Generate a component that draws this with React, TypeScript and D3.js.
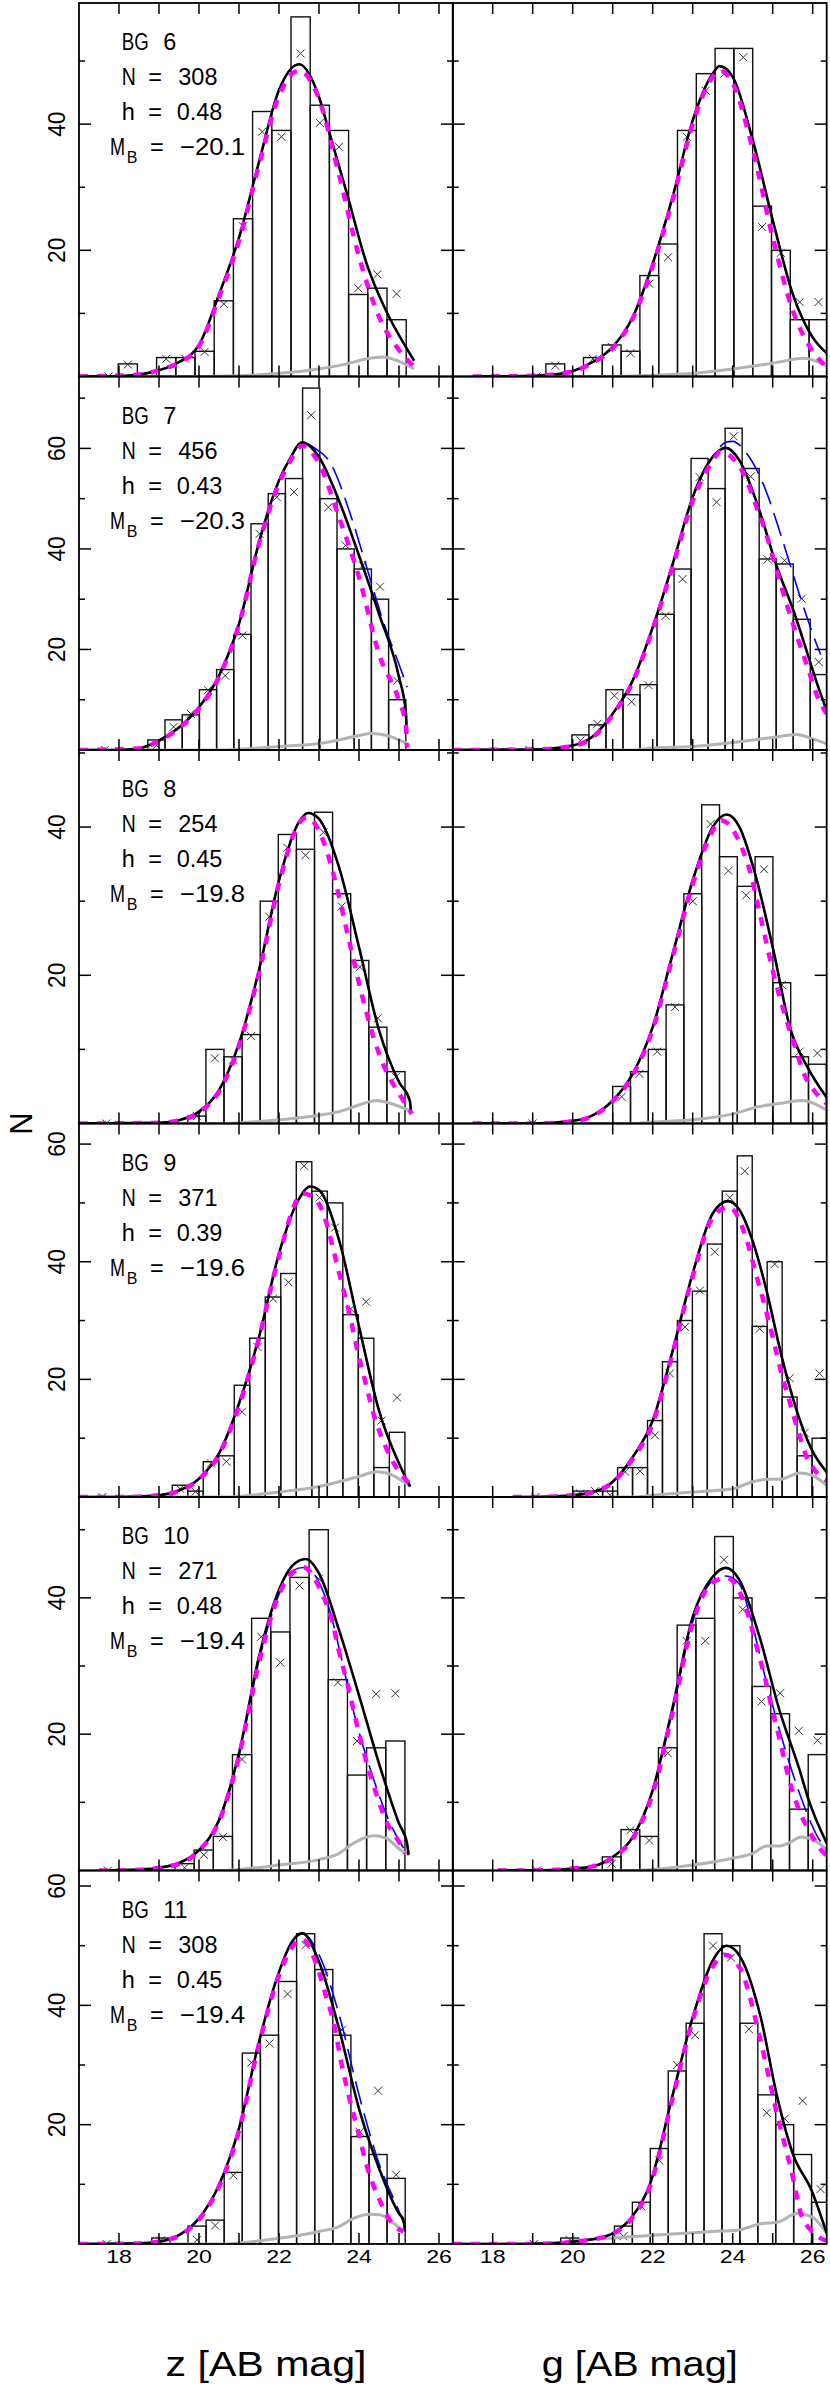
import * as d3 from "d3";

type Pt = [number, number];

// bin spec per panel: [first bin edge, bin width, bin index of first cross]
// ---------------- BG 6 ----------------
const bg6zBin = [17.98, 0.48, -1];
const bg6zBars = [2, 0, 3, 3, 4, 12, 25, 42, 39, 57, 43, 39, 13, 14, 9];
const bg6zCross = [0, 1.9, null, 2.8, 2.8, 3.9, 11.5, 23.8, 38.8, 38, 51.2, 40.2, 36.4, 14, 16.2, 13.1];
const bg6zFit: Pt[] = [[17, 0], [18, 0.05], [18.5, 0.3], [19, 1.0], [19.5, 2.3], [20, 5.0], [20.5, 13], [21, 22], [21.5, 34], [22, 45.4], [22.5, 49.5], [23, 44.3], [23.23, 39.3], [23.72, 28.5], [24.19, 17.9], [24.67, 10.5], [25.15, 4.9], [25.38, 2.5]];
const bg6zMag: Pt[] = [[17, 0], [18.5, 0.3], [19, 1.0], [19.5, 2.2], [20, 4.8], [20.5, 12.5], [21, 21.5], [21.5, 33.5], [22, 44.5], [22.5, 48.5], [23, 44], [23.5, 32], [24, 19], [24.5, 9.5], [25, 4.2], [25.38, 1.5]];
const bg6zGray: Pt[] = [[17, 0], [20, 0], [21, 0.1], [22, 0.5], [23, 1.2], [23.7, 2.0], [24.2, 2.8], [24.6, 3.1], [25.0, 2.4], [25.38, 1.2]];

const bg6gBin = [19.33, 0.47, -1];
const bg6gBars = [2, 0, 3, 5, 4, 16, 21, 39, 48, 52, 52, 27, 20, 9, 9];
const bg6gCross = [0, 1.7, null, 2.8, 4.7, 3.7, 14.7, 18.9, 38, 45.3, 48, 50.6, 23.7, 19.6, 11.8, 11.8];
const bg6gFit: Pt[] = [[17.5, 0], [19, 0.1], [19.5, 0.3], [20, 0.85], [20.5, 2.3], [21, 4.7], [21.5, 9.4], [22, 17.9], [22.5, 28.5], [23, 40.6], [23.5, 48], [23.67, 49.2], [24, 47.5], [24.5, 37.5], [25, 24.8], [25.5, 13.1], [26, 6.2], [26.35, 3.7]];
const bg6gMag: Pt[] = [[17.5, 0], [19, 0.1], [20, 0.8], [20.5, 2.2], [21, 4.5], [21.5, 9.2], [22, 17.5], [22.5, 28], [23, 40], [23.5, 47.5], [23.67, 48.5], [24, 46.5], [24.5, 36], [25, 22], [25.5, 10.5], [26, 4.0], [26.35, 1.5]];
const bg6gGray: Pt[] = [[17.5, 0], [21, 0], [22, 0.2], [23, 0.5], [24, 1.2], [25, 2.1], [25.77, 2.9], [26.35, 1.7]];

// ---------------- BG 7 ----------------
const bg7zBin = [18.72, 0.43, -3];
const bg7zBars = [2, 6, 7, 12, 16, 23, 45, 51, 54, 72, 50, 40, 36, 30, 10];
const bg7zCross = [0, null, null, 0.9, 4.6, 7.2, 11.9, 14.8, 22.8, 43, 50.3, 51.3, 66.6, 48.3, 40.7, 36.7, 32.5, 13.8];
const bg7zFit: Pt[] = [[17, 0], [18, 0], [18.5, 0.3], [19, 1.9], [19.5, 4.5], [20, 8.5], [20.5, 14.8], [21, 25.1], [21.5, 41.3], [22, 53.6], [22.25, 57.6], [22.58, 61.2], [23, 58.3], [23.5, 49.6], [24, 38.7], [24.5, 27.1], [25, 14.5], [25.17, 7.5], [25.2, 3.2]];
const bg7zBlue: Pt[] = [[17, 0], [18, 0], [18.5, 0.3], [19, 1.9], [19.5, 4.5], [20, 8.5], [20.5, 14.8], [21, 25.1], [21.5, 41.3], [22, 53.6], [22.25, 57.6], [22.58, 61.2], [22.9, 60], [23.27, 57.3], [23.78, 47], [24.19, 36.4], [24.6, 25.7], [25.07, 15.5], [25.2, 12.5]];
const bg7zMag: Pt[] = [[17, 0], [18.5, 0.3], [19, 1.8], [19.5, 4.3], [20, 8.3], [20.5, 14.5], [21, 25], [21.5, 41], [22, 53], [22.25, 57], [22.58, 60.5], [23, 57], [23.5, 46.3], [24, 34.4], [24.5, 19.1], [25, 9.8], [25.17, 5], [25.2, 0.5]];
const bg7zGray: Pt[] = [[17, 0], [20.5, 0], [22, 0.7], [23, 1.3], [23.5, 2], [24, 2.9], [24.3, 3.3], [24.7, 2.9], [25.2, 1.3]];

const bg7gBin = [19.98, 0.4256, -3];
const bg7gBars = [3, 5, 12, 11, 13, 27, 36, 58, 52, 64, 56, 38, 37, 26, 15];
const bg7gCross = [0, null, null, 1.9, 5.2, 10.8, 9.6, 12.9, 26.7, 34, 54.3, 49.3, 62.4, 54.4, 37.9, 37.7, 30.1, 17.5];
const bg7gFit: Pt[] = [[17, 0], [19, 0.1], [20, 0.9], [20.5, 2.7], [21, 7.2], [21.5, 13.8], [22, 24.4], [22.5, 37], [23, 50.3], [23.5, 58.3], [23.83, 60.1], [24.17, 57.6], [24.67, 47.6], [25.08, 37], [25.52, 27.7], [26.17, 11.8], [26.35, 7.8]];
const bg7gBlue: Pt[] = [[17, 0], [19, 0.1], [20, 0.9], [20.5, 2.7], [21, 7.2], [21.5, 13.8], [22, 24.4], [22.5, 37], [23, 50.3], [23.5, 58.3], [23.83, 61.2], [24.0, 61.4], [24.3, 59.5], [24.78, 52.6], [25.23, 42.1], [25.65, 31.4], [26.1, 21], [26.2, 19]];
const bg7gMag: Pt[] = [[17, 0], [19, 0.1], [20, 0.8], [20.5, 2.5], [21, 7], [21.5, 13.5], [22, 24], [22.5, 36.5], [23, 49.5], [23.5, 57.5], [23.68, 59.3], [24.27, 55], [24.6, 48.3], [24.85, 42.7], [25.1, 35.7], [25.35, 29], [25.6, 22.8], [25.87, 16.5], [26.14, 10.2], [26.35, 7.2]];
const bg7gGray: Pt[] = [[17, 0], [21.5, 0], [22, 0.4], [23, 0.7], [24, 1.5], [25, 2.5], [25.6, 3.1], [26, 2.2], [26.35, 1.2]];

// ---------------- BG 8 ----------------
const bg8zBin = [19.72, 0.4525, -5];
const bg8zBars = [1, 10, 9, 12, 30, 39, 37, 42, 31, 22, 13, 7];
const bg8zCross = [0, null, null, null, null, 1.0, 8.8, 8.6, 11.8, 27.9, 37.2, 36.2, 39.3, 29.3, 21.1, 14.2, 6.3];
const bg8zFit: Pt[] = [[17, 0], [19, 0.1], [19.5, 0.45], [20, 1.6], [20.5, 4.5], [21, 10.8], [21.5, 20.7], [22, 32.8], [22.5, 40.7], [22.73, 41.9], [23, 41.1], [23.5, 34.6], [24, 23.8], [24.5, 12.6], [25, 5.6], [25.27, 3.1], [25.3, 1.5]];
const bg8zMag: Pt[] = [[17, 0], [19, 0.1], [19.5, 0.4], [20, 1.5], [20.5, 4.3], [21, 10.5], [21.5, 20.3], [22, 32.3], [22.5, 40.5], [22.7, 41.3], [23, 39.5], [23.36, 33.7], [23.73, 25.2], [24.15, 15.7], [24.36, 11.7], [24.65, 7.4], [25.03, 3.8], [25.32, 1.3]];
const bg8zGray: Pt[] = [[17, 0], [20.5, 0], [22, 0.5], [23, 1.1], [23.5, 1.6], [24, 2.5], [24.44, 3.1], [24.73, 2.8], [25.33, 1.6]];

const bg8gBin = [21.0, 0.445, -5];
const bg8gBars = [5, 7, 10, 16, 31, 43, 36, 32, 36, 19, 9, 8];
const bg8gCross = [0, null, null, null, null, 3.6, 6.7, 9.7, 15.7, 30, 40.4, 34.1, 30.8, 34.3, 18.7, 9.7, 9.5];
const bg8gFit: Pt[] = [[17.5, 0], [19, 0], [20, 0.36], [20.5, 1.1], [21, 3.1], [21.5, 6.7], [22, 13], [22.5, 22.9], [23, 32.8], [23.5, 40], [23.85, 41.7], [24.17, 40], [24.56, 33.7], [25, 23.8], [25.44, 12.8], [25.89, 7.4], [26.35, 3.5]];
const bg8gMag: Pt[] = [[17.5, 0], [19, 0], [20, 0.3], [20.5, 1.0], [21, 3], [21.5, 6.5], [22, 12.7], [22.5, 22.5], [23, 32.3], [23.5, 39.5], [23.72, 40.9], [24.22, 37.3], [24.47, 33.3], [24.68, 28.3], [25.02, 20.2], [25.27, 15.3], [25.52, 11], [25.8, 6.5], [26.1, 4], [26.35, 2.7]];
const bg8gGray: Pt[] = [[17.5, 0], [21.5, 0], [22, 0.2], [23, 0.5], [24, 1.3], [24.67, 2.3], [25.18, 2.7], [25.72, 3.1], [26.35, 1.8]];

// ---------------- BG 9 ----------------
const bg9zBin = [19.33, 0.3878, -5];
const bg9zBars = [2, 1, 6, 7, 19, 27, 34, 38, 57, 52, 50, 31, 27, 5, 11];
const bg9zCross = [0, null, null, null, null, 1.4, 0.9, 5.7, 6.0, 14.5, 25.5, 33.7, 36.5, 56.3, 50.9, 45.8, 32, 33.2, 13, 16.9];
const bg9zFit: Pt[] = [[17, 0], [18, 0], [19, 0.3], [19.5, 1.1], [20, 3.1], [20.5, 7.4], [21, 15.9], [21.5, 27.2], [22, 41.4], [22.5, 50.7], [22.78, 52.8], [23, 52.2], [23.5, 43.7], [24, 29], [24.5, 14.7], [25, 5.7], [25.28, 1.8]];
const bg9zMag: Pt[] = [[17, 0], [18, 0], [19, 0.3], [19.5, 1.0], [20, 3.0], [20.5, 7.2], [21, 15.5], [21.5, 27], [22, 41], [22.6, 51.6], [22.85, 51], [23.11, 48.2], [23.36, 42], [23.57, 36.3], [23.78, 30.6], [23.94, 25.5], [24.15, 19.8], [24.36, 14.2], [24.65, 8.8], [24.9, 5.4], [25.11, 3.4], [25.36, 1.7]];
const bg9zGray: Pt[] = [[17, 0], [20.5, 0], [21, 0.1], [22, 0.85], [23, 1.8], [23.5, 2.6], [24, 3.5], [24.44, 4.3], [24.73, 4.0], [25.28, 1.8]];

const bg9gBin = [20.0, 0.374, -3];
const bg9gBars = [1, 1, 1, 5, 5, 13, 23, 30, 35, 43, 52, 58, 29, 40, 17, 7, 10];
const bg9gCross = [0, null, null, 0.6, 1, 0.3, 4.3, 4.4, 10.5, 21, 28.9, 35.1, 41.7, 50.9, 55.4, 28.6, 39.6, 20.2, 10.9, 21];
const bg9gFit: Pt[] = [[18.5, 0], [19, 0], [20, 0.3], [20.5, 0.85], [20.83, 1.7], [21.5, 6.8], [22, 13], [22.5, 24.9], [23, 38], [23.5, 48.2], [23.88, 50.3], [24.17, 48.8], [24.5, 43.5], [24.85, 35], [25.22, 24], [25.6, 14.7], [25.98, 8], [26.35, 4.2]];
const bg9gMag: Pt[] = [[18.5, 0], [19, 0], [20, 0.3], [20.5, 0.8], [21, 2.5], [21.5, 6.5], [22, 12.5], [22.5, 24.5], [23, 37.5], [23.5, 47.5], [23.9, 49.3], [24.35, 43.7], [24.56, 38.5], [24.81, 32.3], [25.02, 26.6], [25.22, 21], [25.39, 17], [25.68, 10.2], [25.85, 6.8], [26.06, 4.5], [26.35, 2.8]];
const bg9gGray: Pt[] = [[18.5, 0], [21.5, 0], [22, 0.3], [23, 0.85], [24, 1.4], [24.5, 2.6], [24.85, 3], [25.18, 3], [25.68, 4.1], [25.98, 3.7], [26.35, 2]];

// ---------------- BG 10 ----------------
const bg10zBin = [19.4, 0.479, -4];
const bg10zBars = [1, 3, 5, 17, 37, 35, 43, 50, 28, 14, 18, 19];
const bg10zCross = [0, null, null, null, 0.4, 2.3, 4.9, 16.3, 34.3, 30.5, 41.8, 42.8, 27.6, 19, 25.9, 26];
const bg10zFit: Pt[] = [[17.5, 0], [18.5, 0.15], [19, 0.4], [19.5, 1.1], [20, 3.0], [20.5, 7.4], [21, 17.2], [21.5, 31.4], [22, 41.2], [22.33, 44.7], [22.67, 45.7], [23, 43.6], [23.5, 35.3], [24, 25.7], [24.5, 15.7], [25, 6.9], [25.2, 4.0], [25.24, 2.3]];
const bg10zBlue: Pt[] = [[17.5, 0], [18.5, 0.15], [19, 0.4], [19.5, 1.1], [20, 3.0], [20.5, 7.2], [21, 16.8], [21.5, 30.8], [22, 40.5], [22.33, 44], [22.65, 44.5], [23, 42.3], [23.3, 37.5], [23.58, 30.6], [23.9, 22.5], [24.32, 14.2], [24.78, 6.9], [25.2, 2.5]];
const bg10zMag: Pt[] = [[17.5, 0], [18.5, 0.1], [19, 0.4], [19.5, 1.0], [20, 2.9], [20.5, 7.2], [21, 16.8], [21.5, 30.5], [22, 40.5], [22.4, 44], [22.6, 44.5], [23.07, 40.7], [23.32, 36.8], [23.53, 31.4], [23.69, 27.9], [23.94, 21.6], [24.15, 16.7], [24.4, 11.8], [24.69, 7.1], [25.02, 4], [25.15, 2.5]];
const bg10zGray: Pt[] = [[17.5, 0], [20.5, 0], [21, 0.15], [22, 0.8], [23, 1.6], [23.5, 2.5], [23.86, 4.0], [24.19, 4.9], [24.4, 5.1], [24.69, 4.7], [25.0, 3.2], [25.25, 2.3]];

const bg10gBin = [20.74, 0.468, -4];
const bg10gBars = [2, 6, 5, 18, 36, 37, 49, 40, 27, 23, 9, 17];
const bg10gCross = [0, null, null, null, 1, 5.9, 4.4, 17.2, 33.7, 33.7, 45.6, 38.3, 24.8, 26, 20.5, 19.1];
const bg10gFit: Pt[] = [[18.13, 0], [19, 0], [20, 0.3], [20.5, 0.6], [21, 2.0], [21.5, 4.9], [22, 11.8], [22.5, 24], [23, 37.2], [23.5, 43.1], [23.83, 44.4], [24.17, 42.6], [24.67, 34.3], [25.17, 23.5], [25.67, 14.8], [25.89, 10.5], [26.35, 4]];
const bg10gBlue: Pt[] = [[18.13, 0], [19, 0], [20, 0.3], [20.5, 0.6], [21, 2.0], [21.5, 4.9], [22, 11.6], [22.5, 23.5], [23, 36.5], [23.5, 42.5], [23.83, 43.2], [24.17, 42], [24.45, 37], [24.81, 28.4], [25.17, 20.6], [25.63, 12], [26.1, 5.2], [26.35, 3]];
const bg10gMag: Pt[] = [[18.13, 0], [19, 0], [20, 0.3], [20.5, 0.6], [21, 1.9], [21.5, 4.7], [22, 11.3], [22.5, 23.3], [23, 36.3], [23.5, 42.3], [23.86, 42.9], [24.35, 38.2], [24.6, 32.8], [24.81, 28.2], [24.98, 23.8], [25.18, 19.1], [25.39, 13.8], [25.6, 9.8], [26.02, 4.7], [26.18, 3.2], [26.35, 2.2]];
const bg10gGray: Pt[] = [[18.13, 0], [21.5, 0], [22, 0.15], [23, 0.8], [24, 1.8], [24.5, 2.5], [24.85, 3.6], [25.18, 3.6], [25.42, 4.1], [25.72, 4.9], [26.02, 4.5], [26.35, 3.0]];

// ---------------- BG 11 ----------------
const bg11zBin = [18.82, 0.4525, -3];
const bg11zBars = [1, 0, 3, 4, 12, 32, 35, 44, 52, 46, 35, 18, 15, 11];
const bg11zCross = [0, null, null, 0.6, null, 0.7, 3.1, 11.5, 30.4, 33.6, 41.9, 50.1, 44.9, 35.9, 18.8, 25.7, 11.6];
const bg11zFit: Pt[] = [[17, 0], [18.5, 0.1], [19, 0.4], [19.5, 1.5], [20, 4.3], [20.5, 9.9], [21, 19.4], [21.5, 33.9], [22, 45.6], [22.33, 50.7], [22.58, 52.1], [23, 47.3], [23.5, 36.1], [24, 22.7], [24.5, 12.7], [25, 5.1], [25.11, 4.0], [25.15, 2.1]];
const bg11zBlue: Pt[] = [[17, 0], [18.5, 0.1], [19, 0.4], [19.5, 1.5], [20, 4.3], [20.5, 9.9], [21, 19.4], [21.5, 33.9], [22, 45.6], [22.33, 50.7], [22.6, 52], [23, 48.5], [23.5, 38.5], [24, 25], [24.5, 13.5], [25, 5.5], [25.15, 3]];
const bg11zMag: Pt[] = [[17, 0], [18.5, 0.1], [19, 0.4], [19.5, 1.4], [20, 4.1], [20.5, 9.6], [21, 19], [21.5, 33.5], [22, 45], [22.3, 49.5], [22.57, 51.1], [22.94, 46.8], [23.19, 41.2], [23.36, 37.3], [23.57, 30], [23.76, 24.4], [23.98, 18.8], [24.19, 13.2], [24.48, 7.9], [24.9, 2.9], [25.11, 2.1]];
const bg11zGray: Pt[] = [[17, 0], [20.5, 0], [21, 0.2], [22, 0.95], [23, 2.1], [23.5, 2.9], [23.86, 4.3], [24.27, 5.0], [24.52, 4.9], [24.82, 3.7], [25.11, 2.2]];

const bg11gBin = [19.7, 0.448, -2];
const bg11gBars = [1, 0, 0, 3, 7, 16, 29, 37, 52, 50, 37, 25, 20, 15, 7];
const bg11gCross = [0, null, 0.7, null, null, 1.3, 6.3, 14, 30, 35, 50, 48, 36, 22, 21, 24, 9.2];
const bg11gFit: Pt[] = [[17, 0], [18.6, 0], [19.5, 0.15], [20, 0.4], [20.5, 0.8], [21, 1.8], [21.49, 4.6], [21.93, 10], [22.5, 25], [23, 38], [23.5, 47.5], [23.85, 50], [24.2, 48], [24.7, 38], [25.1, 25], [25.51, 15], [25.97, 9], [26.35, 1.8]];
const bg11gMag: Pt[] = [[17, 0], [18.6, 0], [19.5, 0.1], [20, 0.35], [20.5, 0.75], [21, 1.7], [21.49, 4.4], [21.93, 9.6], [22.5, 24.5], [23, 37.5], [23.5, 46.5], [23.8, 48.5], [24.2, 46], [24.7, 34], [25.1, 22], [25.51, 11], [25.7, 5.2], [26.0, 2], [26.35, 0.5]];
const bg11gGray: Pt[] = [[17, 0], [19.6, 0], [20, 0.5], [21, 1.0], [22.8, 1.8], [23.5, 2.1], [24.1, 2.3], [24.7, 3.4], [25.15, 3.7], [25.6, 5.1], [25.97, 4.6], [26.35, 1.8]];

// ---------------- labels ----------------
const rowNames = ["6", "7", "8", "9", "10", "11"];
const rowN = ["308", "456", "254", "371", "271", "308"];
const rowH = ["0.48", "0.43", "0.45", "0.39", "0.48", "0.45"];
const rowMB = ["\u221220.1", "\u221220.3", "\u221219.8", "\u221219.6", "\u221219.4", "\u221219.4"];
const rowYMax = [59.2, 74.3, 50.4, 63.5, 54.8, 62.6];
const xTickLabels = [18, 20, 22, 24, 26];
const xTitles = ["z [AB mag]", "g [AB mag]"];

const panels = [
  [bg6zBin, bg6zBars, bg6zCross, bg6zFit, bg6zFit, bg6zMag, bg6zGray],
  [bg6gBin, bg6gBars, bg6gCross, bg6gFit, bg6gFit, bg6gMag, bg6gGray],
  [bg7zBin, bg7zBars, bg7zCross, bg7zFit, bg7zBlue, bg7zMag, bg7zGray],
  [bg7gBin, bg7gBars, bg7gCross, bg7gFit, bg7gBlue, bg7gMag, bg7gGray],
  [bg8zBin, bg8zBars, bg8zCross, bg8zFit, bg8zFit, bg8zMag, bg8zGray],
  [bg8gBin, bg8gBars, bg8gCross, bg8gFit, bg8gFit, bg8gMag, bg8gGray],
  [bg9zBin, bg9zBars, bg9zCross, bg9zFit, bg9zFit, bg9zMag, bg9zGray],
  [bg9gBin, bg9gBars, bg9gCross, bg9gFit, bg9gFit, bg9gMag, bg9gGray],
  [bg10zBin, bg10zBars, bg10zCross, bg10zFit, bg10zBlue, bg10zMag, bg10zGray],
  [bg10gBin, bg10gBars, bg10gCross, bg10gFit, bg10gBlue, bg10gMag, bg10gGray],
  [bg11zBin, bg11zBars, bg11zCross, bg11zFit, bg11zBlue, bg11zMag, bg11zGray],
  [bg11gBin, bg11gBars, bg11gCross, bg11gFit, bg11gFit, bg11gMag, bg11gGray],
] as any[];

const W = 830;
const H = 2395;
const COL_X = [79, 452.7];
const PW = 374;
const TOP = 3;
const PH = 373.5;
const FONT = "'Liberation Sans', Arial, sans-serif";

function Panel({ idx }: { idx: number }) {
  const row = Math.floor(idx / 2);
  const col = idx % 2;
  const [bin, bars, cross, fit, blue, mag, gray] = panels[idx];
  const [start, w, cStart] = bin as number[];
  const x0 = COL_X[col];
  const y0 = TOP + row * PH;
  const x = d3.scaleLinear().domain([17, 26.35]).range([x0, x0 + PW]);
  const y = d3.scaleLinear().domain([0, rowYMax[row]]).range([y0 + PH, y0]);
  const line = d3
    .line<Pt>()
    .x((d) => x(d[0]))
    .y((d) => y(d[1]))
    .curve(d3.curveMonotoneX);
  const clipId = `clip${idx}`;

  const yTicks = d3.range(10, rowYMax[row], 10);
  const xTicks = d3.range(18, 27);

  return (
    <g>
      <defs>
        <clipPath id={clipId}>
          <rect x={x0} y={y0} width={PW} height={PH} />
        </clipPath>
      </defs>
      <g clipPath={`url(#${clipId})`}>
        {(bars as number[]).map((v, i) =>
          v > 0 ? (
            <rect
              key={i}
              x={x(start + i * w)}
              y={y(v)}
              width={x(start + (i + 1) * w) - x(start + i * w)}
              height={y(0) - y(v)}
              fill="none"
              stroke="#111"
              strokeWidth={1.4}
            />
          ) : null
        )}
        {(cross as (number | null)[]).map((v, i) => {
          if (v === null) return null;
          const cx = x(start + (cStart + i + 0.5) * w);
          const cy = y(v);
          return (
            <path
              key={i}
              d={`M${cx - 4},${cy - 4}L${cx + 4},${cy + 4}M${cx - 4},${cy + 4}L${cx + 4},${cy - 4}`}
              stroke="#333"
              strokeWidth={1}
              fill="none"
            />
          );
        })}
        <path d={line(gray) || ""} fill="none" stroke="#b3b3b3" strokeWidth={3} />
        <path d={line(blue) || ""} fill="none" stroke="#0000ff" strokeWidth={1.6} strokeDasharray="24 9" />
        <path d={line(fit) || ""} fill="none" stroke="#000" strokeWidth={2.6} />
        <path d={line(mag) || ""} fill="none" stroke="#ff00ff" strokeWidth={4.5} strokeDasharray="9 9" />
      </g>
      {xTicks.map((t) => (
        <g key={t} stroke="#000" strokeWidth={1.5}>
          <line x1={x(t)} x2={x(t)} y1={y0} y2={y0 + 11} />
          <line x1={x(t)} x2={x(t)} y1={y0 + PH - 11} y2={y0 + PH} />
        </g>
      ))}
      {yTicks.map((t) => {
        const len = t % 20 === 0 ? 12 : 6;
        return (
          <g key={t} stroke="#000" strokeWidth={1.5}>
            <line x1={x0} x2={x0 + len} y1={y(t)} y2={y(t)} />
            <line x1={x0 + PW - len} x2={x0 + PW} y1={y(t)} y2={y(t)} />
          </g>
        );
      })}
      <rect x={x0} y={y0} width={PW} height={PH} fill="none" stroke="#000" strokeWidth={1.8} />
      {col === 0 &&
        yTicks
          .filter((t) => t % 20 === 0)
          .map((t) => (
            <text
              key={t}
              transform={`translate(65,${y(t)}) scale(1.3,1.2) rotate(-90)`}
              textAnchor="middle"
              fontSize={19}
              fontFamily={FONT}
            >
              {t}
            </text>
          ))}
      {col === 0 && (
        <g fontFamily={FONT} fontSize={23.5} fill="#000">
          <text x={121.7} y={y0 + 47} textLength={27} lengthAdjust="spacingAndGlyphs">BG</text>
          <text x={163.3} y={y0 + 47}>{rowNames[row]}</text>
          <text x={121.7} y={y0 + 82} textLength={14} lengthAdjust="spacingAndGlyphs">N</text>
          <text x={148.3} y={y0 + 82}>=</text>
          <text x={178.3} y={y0 + 82}>{rowN[row]}</text>
          <text x={121.7} y={y0 + 117}>h</text>
          <text x={148.3} y={y0 + 117}>=</text>
          <text x={176.7} y={y0 + 117}>{rowH[row]}</text>
          <text x={110} y={y0 + 152} textLength={15} lengthAdjust="spacingAndGlyphs">M</text>
          <text x={126.7} y={y0 + 160.3} fontSize={16}>B</text>
          <text x={150} y={y0 + 152}>=</text>
          <text x={180} y={y0 + 152} textLength={65} lengthAdjust="spacingAndGlyphs">{rowMB[row]}</text>
        </g>
      )}
      {row === 5 &&
        xTickLabels.map((t) => (
          <text
            key={t}
            transform={`translate(${x(t)},2263.3) scale(1.25,1)`}
            textAnchor="middle"
            fontSize={18.5}
            fontFamily={FONT}
          >
            {t}
          </text>
        ))}
    </g>
  );
}

export default function App() {
  return (
    <svg
      width={W}
      height={H}
      viewBox={`0 0 ${W} ${H}`}
      style={{ position: "absolute", left: 0, top: 0, background: "#fff" }}
    >
      <rect width={W} height={H} fill="#fff" />
      {panels.map((_, i) => (
        <Panel key={i} idx={i} />
      ))}
      <text
        transform={`translate(32,${TOP + 3 * PH}) rotate(-90)`}
        textAnchor="middle"
        fontSize={31}
        fontFamily={FONT}
      >
        N
      </text>
      {xTitles.map((t, i) => (
        <text
          key={t}
          x={COL_X[i] + PW / 2 - (i === 0 ? 100.5 : 98)}
          y={2376}
          fontSize={35}
          fontFamily={FONT}
          textLength={i === 0 ? 201 : 196}
          lengthAdjust="spacingAndGlyphs"
        >
          {t}
        </text>
      ))}
    </svg>
  );
}
